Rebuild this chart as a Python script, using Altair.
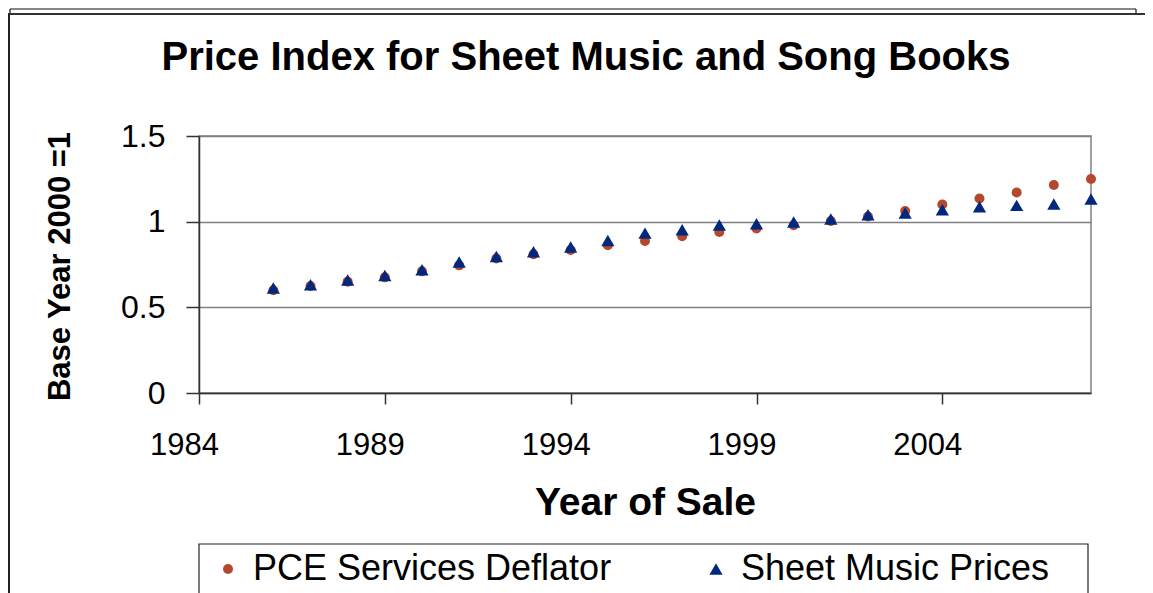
import altair as alt
import pandas as pd

# ---- data ----
years = list(range(1986, 2009))
pce_deflator = [0.600, 0.625, 0.650, 0.675, 0.710, 0.745, 0.785, 0.810, 0.835, 0.862,
                0.887, 0.915, 0.940, 0.960, 0.979, 1.004, 1.030, 1.062, 1.100, 1.135,
                1.170, 1.214, 1.249]
sheet_music = [0.613, 0.632, 0.659, 0.686, 0.719, 0.764, 0.797, 0.824, 0.852, 0.890,
               0.933, 0.953, 0.980, 0.988, 0.998, 1.015, 1.040, 1.050, 1.070, 1.087,
               1.095, 1.103, 1.132]
series_names = ["PCE Services Deflator", "Sheet Music Prices"]
series_colors = ["#B4482C", "#00287F"]
series_shapes = ["circle", "triangle-up"]
series_sizes = [100, 175]
x_ticks = [1984, 1989, 1994, 1999, 2004]
y_ticks = [0, 0.5, 1, 1.5]
chart_title = "Price Index for Sheet Music and Song Books"

rows = []
for i, (name, vals) in enumerate(zip(series_names, [pce_deflator, sheet_music])):
    for yr, v in zip(years, vals):
        rows.append({"year": yr, "value": v, "series": name, "ord": i})
df = pd.DataFrame(rows)

FONT = "Liberation Sans"
W, H = 892, 257

legend = alt.Legend(
    orient="none", legendX=11, legendY=415, direction="horizontal", title=None,
    labelFont=FONT, labelFontSize=36, labelColor="black", labelLimit=0,
    symbolSize=60, symbolStrokeWidth=0, symbolOffset=0, labelOffset=7,
    columnPadding=86, padding=0,
)

points = alt.Chart(df).mark_point(filled=True, opacity=1).encode(
    x=alt.X("year:Q",
            scale=alt.Scale(domain=[1984, 2008], nice=False, zero=False),
            axis=alt.Axis(values=x_ticks, format="d", title="Year of Sale", grid=False,
                          tickSize=11, labelPadding=26, labelFlush=False,
                          labelOffset=-15, labelFontSize=31, titleFontSize=39,
                          titleY=121, titleBaseline="alphabetic")),
    y=alt.Y("value:Q",
            scale=alt.Scale(domain=[0, 1.5], nice=False),
            axis=alt.Axis(values=y_ticks, format=".1~f", title="Base Year 2000 =1",
                          grid=True, tickSize=13, labelPadding=21, labelFlush=False,
                          labelFontSize=32, titleFontSize=31,
                          titleX=-130, titleY=130, titleBaseline="alphabetic",
                          titleAngle=270)),
    color=alt.Color("series:N", scale=alt.Scale(domain=series_names, range=series_colors),
                    legend=legend),
    shape=alt.Shape("series:N", scale=alt.Scale(domain=series_names, range=series_shapes),
                    legend=legend),
    size=alt.Size("series:N", scale=alt.Scale(domain=series_names, range=series_sizes),
                  legend=None),
    order=alt.Order("ord:Q"),
)

deco = pd.DataFrame({"k": [0]})


def hline(y, x1, x2, w, c):
    return alt.Chart(deco).mark_rule(strokeWidth=w, color=c).encode(
        x=alt.value(x1), x2=alt.value(x2), y=alt.value(y))


def vline(x, y1, y2, w, c):
    return alt.Chart(deco).mark_rule(strokeWidth=w, color=c).encode(
        x=alt.value(x), y=alt.value(y1), y2=alt.value(y2))


frame = [
    hline(-127, -189, 937, 1.2, "#111"),
    vline(-189, -127, -122, 1.2, "#111"),
    vline(937, -127, -122, 1.2, "#111"),
    hline(-122, -191, 946, 2, "#333"),
    vline(-190, -122, 470, 2, "#222"),
]

legend_box = alt.Chart(deco).mark_rect(fillOpacity=0, stroke="#222", strokeWidth=1.2).encode(
    x=alt.value(0), x2=alt.value(889), y=alt.value(408), y2=alt.value(480))

title_mark = alt.Chart(pd.DataFrame({"t": [chart_title]})).mark_text(
    font=FONT, fontSize=40, fontWeight="bold", color="black",
    align="center", baseline="alphabetic",
).encode(x=alt.value(387), y=alt.value(-66), text="t:N")

chart = alt.layer(points, legend_box, title_mark, *frame).properties(
    width=W, height=H,
    padding={"left": 191, "top": 128, "right": 54, "bottom": 210},
    autosize=alt.AutoSizeParams(type="none"),
).configure_view(
    stroke="#808080", strokeWidth=1.5,
).configure_axis(
    labelFont=FONT, titleFont=FONT, labelColor="black", titleColor="black",
    titleFontWeight="bold", domainColor="#333333", domainWidth=1.5,
    tickColor="#333333", tickWidth=1.5, gridColor="#808080", gridWidth=1.5,
    labelOverlap=False,
)

chart.save("out.html", embed_options={"renderer": "svg", "actions": False})
